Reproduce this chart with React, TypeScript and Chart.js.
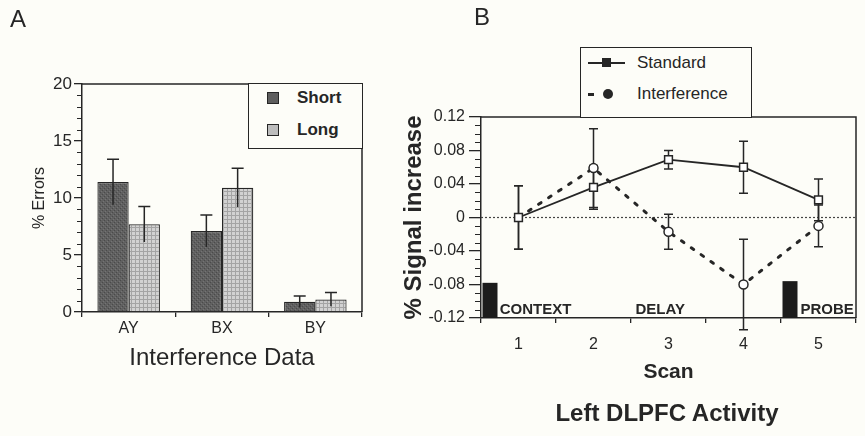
import React, { useEffect, useRef } from 'react';
import { Chart, registerables } from 'chart.js';

Chart.register(...registerables);

const FONT = "'Liberation Sans', Arial, Helvetica, sans-serif";
const INK = '#262626';
const BG = '#fdfdf8';

// ---------- Panel A data ----------
const categoriesA = ['AY', 'BX', 'BY'];
const shortValues = [11.4, 7.1, 0.9];
const shortErrors = [2.0, 1.4, 0.5];
const longValues = [7.7, 10.9, 1.1];
const longErrors = [1.55, 1.7, 0.6];
const yMinA = 0;
const yMaxA = 20;
const yStepA = 5;
const yMinorStepA = 1;

// ---------- Panel B data ----------
const scans = ['1', '2', '3', '4', '5'];
const standardSignal = [0, 0.036, 0.069, 0.06, 0.021];
const standardErrors = [0.038, 0.026, 0.011, 0.031, 0.025];
const interferenceSignal = [0, 0.059, -0.017, -0.08, -0.01];
const interferenceErrors = [0.038, 0.047, 0.021, 0.054, 0.025];
const yMinB = -0.12;
const yMaxB = 0.12;
const yStepB = 0.04;
const yMinorStepB = 0.01;
const phaseLabels = ['CONTEXT', 'DELAY', 'PROBE'];
const phaseLabelScan = [0.75, 2.56, 4.76];
const phaseLabelValue = [-0.115, -0.115, -0.115];
const phaseBarStartScan = [0.52, 4.52];
const phaseBarEndScan = [0.72, 4.72];
const phaseBarTop = [-0.078, -0.076];

Chart.defaults.font.family = FONT;
Chart.defaults.color = INK;

function makePattern(kind: 'short' | 'long'): CanvasPattern | string {
  const c = document.createElement('canvas');
  c.width = 4;
  c.height = 4;
  const g = c.getContext('2d');
  if (!g) return kind === 'short' ? '#5e5e5e' : '#bdbdbd';
  if (kind === 'short') {
    g.fillStyle = '#606060';
    g.fillRect(0, 0, 4, 4);
    g.fillStyle = '#4a4a4a';
    g.fillRect(0, 0, 1, 1);
    g.fillRect(2, 2, 1, 1);
    g.fillStyle = '#747474';
    g.fillRect(1, 3, 1, 1);
    g.fillRect(3, 1, 1, 1);
  } else {
    g.fillStyle = '#d2d2d2';
    g.fillRect(0, 0, 4, 4);
    g.fillStyle = '#a4a4a4';
    g.fillRect(0, 3, 4, 1);
    g.fillRect(3, 0, 1, 4);
  }
  return g.createPattern(c, 'repeat') || '#bbbbbb';
}

function framePlugin() {
  return {
    id: 'frame',
    afterDraw(chart: any) {
      const { ctx, chartArea } = chart;
      ctx.save();
      ctx.strokeStyle = INK;
      ctx.lineWidth = 1.5;
      ctx.beginPath();
      ctx.moveTo(chartArea.left, chartArea.top);
      ctx.lineTo(chartArea.right, chartArea.top);
      ctx.lineTo(chartArea.right, chartArea.bottom);
      ctx.stroke();
      ctx.restore();
    },
  };
}

function minorTicksPlugin(min: number, max: number, step: number, major: number, len: number) {
  return {
    id: 'minorTicks',
    afterDraw(chart: any) {
      const { ctx, chartArea } = chart;
      const y = chart.scales.y;
      const n = Math.round((max - min) / step);
      const per = Math.round(major / step);
      ctx.save();
      ctx.strokeStyle = INK;
      ctx.lineWidth = 1.1;
      ctx.beginPath();
      for (let i = 0; i <= n; i++) {
        if (i % per === 0) continue;
        const py = Math.round(y.getPixelForValue(min + i * step)) + 0.5;
        ctx.moveTo(chartArea.left - len, py);
        ctx.lineTo(chartArea.left, py);
      }
      ctx.stroke();
      ctx.restore();
    },
  };
}

function errorBarPlugin(errors: number[][], capWidth: number, bottomCap: boolean, under: boolean) {
  const draw = (chart: any) => {
    const { ctx } = chart;
    const y = chart.scales.y;
    chart.data.datasets.forEach((ds: any, di: number) => {
      const errs = errors[di];
      if (!errs) return;
      const meta = chart.getDatasetMeta(di);
      meta.data.forEach((el: any, i: number) => {
        const v = ds.data[i];
        const e = errs[i];
        const x = el.x;
        const yt = y.getPixelForValue(v + e);
        const yb = y.getPixelForValue(v - e);
        ctx.save();
        ctx.strokeStyle = INK;
        ctx.lineWidth = 1.5;
        ctx.setLineDash([]);
        ctx.beginPath();
        ctx.moveTo(x, yt);
        ctx.lineTo(x, yb);
        ctx.moveTo(x - capWidth / 2, yt);
        ctx.lineTo(x + capWidth / 2, yt);
        if (bottomCap) {
          ctx.moveTo(x - capWidth / 2, yb);
          ctx.lineTo(x + capWidth / 2, yb);
        }
        ctx.stroke();
        ctx.restore();
      });
    });
  };
  return under
    ? { id: 'errorBars', beforeDatasetsDraw: draw }
    : { id: 'errorBars', afterDatasetsDraw: draw };
}

const phasePlugin = {
  id: 'phases',
  beforeDatasetsDraw(chart: any) {
    const { ctx, chartArea } = chart;
    const x = chart.scales.x;
    const y = chart.scales.y;
    ctx.save();
    // zero reference line
    ctx.strokeStyle = '#444';
    ctx.lineWidth = 1.2;
    ctx.setLineDash([2, 2]);
    const y0 = y.getPixelForValue(0);
    ctx.beginPath();
    ctx.moveTo(chartArea.left, y0);
    ctx.lineTo(chartArea.right, y0);
    ctx.stroke();
    ctx.setLineDash([]);
    // context / probe bars
    ctx.fillStyle = '#1c1c1c';
    phaseBarStartScan.forEach((s, i) => {
      const x1 = x.getPixelForValue(s - 1);
      const x2 = x.getPixelForValue(phaseBarEndScan[i] - 1);
      const yt = y.getPixelForValue(phaseBarTop[i]);
      const yb = y.getPixelForValue(yMinB);
      ctx.fillRect(x1, yt, x2 - x1, yb - yt);
    });
    // labels
    ctx.fillStyle = INK;
    ctx.font = `bold 15px ${FONT}`;
    ctx.textBaseline = 'alphabetic';
    ctx.textAlign = 'left';
    phaseLabels.forEach((t, i) => {
      ctx.fillText(t, x.getPixelForValue(phaseLabelScan[i] - 1), y.getPixelForValue(phaseLabelValue[i]));
    });
    ctx.restore();
  },
};

function fmtB(v: any) {
  const n = Math.round(Number(v) * 100) / 100;
  if (n === 0) return '0';
  return n.toFixed(2);
}

export default function App() {
  const refA = useRef<HTMLCanvasElement | null>(null);
  const refB = useRef<HTMLCanvasElement | null>(null);

  useEffect(() => {
    if (!refA.current || !refB.current) return;
    const chartA = new Chart(refA.current, {
      type: 'bar',
      data: {
        labels: categoriesA,
        datasets: [
          {
            label: 'Short',
            data: shortValues,
            backgroundColor: makePattern('short') as any,
            borderColor: INK,
            borderWidth: 1.2,
            categoryPercentage: 0.67,
            barPercentage: 1,
          },
          {
            label: 'Long',
            data: longValues,
            backgroundColor: makePattern('long') as any,
            borderColor: INK,
            borderWidth: 1.2,
            categoryPercentage: 0.67,
            barPercentage: 1,
          },
        ],
      },
      options: {
        responsive: false,
        animation: false,
        layout: { padding: { top: 84, right: 38, bottom: 63, left: 0 } },
        plugins: { legend: { display: false }, tooltip: { enabled: false } },
        scales: {
          x: {
            grid: { offset: true, drawOnChartArea: false, tickLength: 5, color: INK, lineWidth: 1.3 },
            border: { color: INK, width: 1.5 },
            ticks: { padding: 1.5, font: { size: 16 }, color: INK },
            title: { display: true, text: 'Interference Data', font: { size: 24 }, color: INK, padding: 0 },
            afterFit: (s: any) => {
              s.height = 61;
            },
          },
          y: {
            min: yMinA,
            max: yMaxA,
            ticks: { stepSize: yStepA, padding: 2, font: { size: 17 }, color: INK },
            grid: { drawOnChartArea: false, tickLength: 8, color: INK, lineWidth: 1.3 },
            border: { color: INK, width: 1.5 },
            title: { display: true, text: '% Errors', font: { size: 16 }, color: INK, padding: { top: 30, bottom: 0 } },
            afterFit: (s: any) => {
              s.width = 82;
            },
          },
        },
      },
      plugins: [
        framePlugin(),
        minorTicksPlugin(yMinA, yMaxA, yMinorStepA, yStepA, 5),
        errorBarPlugin([shortErrors, longErrors], 12, false, false),
      ],
    } as any);

    const chartB = new Chart(refB.current, {
      type: 'line',
      data: {
        labels: scans,
        datasets: [
          {
            label: 'Standard',
            data: standardSignal,
            borderColor: INK,
            borderWidth: 1.8,
            pointStyle: 'rect',
            pointRadius: 5.5,
            pointBackgroundColor: '#ffffff',
            pointBorderColor: INK,
            pointBorderWidth: 1.5,
            tension: 0,
          },
          {
            label: 'Interference',
            data: interferenceSignal,
            borderColor: INK,
            borderWidth: 3,
            borderDash: [3, 9],
            borderCapStyle: 'round',
            pointStyle: 'circle',
            pointRadius: [0, 4.5, 4.5, 4.5, 4.5],
            pointBackgroundColor: '#ffffff',
            pointBorderColor: INK,
            pointBorderWidth: 1.5,
            tension: 0,
          },
        ],
      },
      options: {
        responsive: false,
        animation: false,
        layout: { padding: { top: 117, right: 9, bottom: 51, left: 0 } },
        plugins: { legend: { display: false }, tooltip: { enabled: false } },
        scales: {
          x: {
            type: 'category',
            offset: true,
            grid: { offset: true, drawOnChartArea: false, tickLength: 5, color: INK, lineWidth: 1.3 },
            border: { color: INK, width: 1.5 },
            ticks: { padding: 12, font: { size: 16 }, color: INK },
            title: { display: true, text: 'Scan', font: { size: 21, weight: 'bold' }, color: INK, padding: 0 },
            afterFit: (s: any) => {
              s.height = 67;
            },
          },
          y: {
            min: yMinB,
            max: yMaxB,
            ticks: { stepSize: yStepB, padding: 4, font: { size: 16 }, color: INK, callback: fmtB },
            grid: { drawOnChartArea: false, tickLength: 12, color: INK, lineWidth: 1.3 },
            border: { color: INK, width: 1.5 },
            title: {
              display: true,
              text: '% Signal increase',
              font: { size: 24, weight: 'bold' },
              color: INK,
              padding: { top: 0, bottom: 0 },
            },
            afterFit: (s: any) => {
              s.width = 81;
            },
          },
        },
      },
      plugins: [
        framePlugin(),
        minorTicksPlugin(yMinB, yMaxB, yMinorStepB, yStepB, 6),
        phasePlugin,
        errorBarPlugin([standardErrors, interferenceErrors], 9, true, true),
      ],
    } as any);

    return () => {
      chartA.destroy();
      chartB.destroy();
    };
  }, []);

  const abs = (l: number, t: number, extra: React.CSSProperties = {}): React.CSSProperties => ({
    position: 'absolute',
    left: l,
    top: t,
    ...extra,
  });

  return (
    <div
      style={{
        position: 'absolute',
        left: 0,
        top: 0,
        width: 865,
        height: 436,
        background: BG,
        overflow: 'hidden',
        fontFamily: FONT,
        color: INK,
      }}
    >
      <canvas ref={refA} width={400} height={436} style={abs(0, 0, { width: 400, height: 436 })} />
      <canvas ref={refB} width={465} height={436} style={abs(400, 0, { width: 465, height: 436 })} />

      <div style={abs(10, 4, { fontSize: 24, lineHeight: '30px' })}>A</div>
      <div style={abs(474, 2, { fontSize: 24, lineHeight: '30px' })}>B</div>

      {/* Legend A */}
      <div
        style={abs(248, 83, {
          width: 115,
          height: 66,
          border: `1.5px solid ${INK}`,
          boxSizing: 'border-box',
          background: BG,
        })}
      >
        <div style={abs(18, 8, { width: 10, height: 10, background: '#5e5e5e', border: `1px solid ${INK}` })} />
        <div style={abs(48, 2, { fontSize: 17, fontWeight: 'bold', lineHeight: '24px' })}>Short</div>
        <div style={abs(18, 40, { width: 10, height: 10, background: '#bdbdbd', border: `1px solid ${INK}` })} />
        <div style={abs(48, 34, { fontSize: 17, fontWeight: 'bold', lineHeight: '24px' })}>Long</div>
      </div>

      {/* Legend B */}
      <div
        style={abs(580, 47, {
          width: 172,
          height: 71,
          border: `1.5px solid ${INK}`,
          boxSizing: 'border-box',
          background: BG,
        })}
      >
        <div style={abs(7, 14, { width: 37, height: 2, background: INK })} />
        <div style={abs(21, 10, { width: 9, height: 9, background: INK })} />
        <div style={abs(56, 3, { fontSize: 17, lineHeight: '24px' })}>Standard</div>
        <div style={abs(7, 45, { width: 6, height: 3, background: INK })} />
        <div style={abs(22, 41, { width: 10, height: 10, background: INK, borderRadius: '50%' })} />
        <div style={abs(56, 34, { fontSize: 17, lineHeight: '24px' })}>Interference</div>
      </div>

      <div
        style={abs(467, 398, {
          width: 400,
          textAlign: 'center',
          fontSize: 24,
          fontWeight: 'bold',
          lineHeight: '30px',
        })}
      >
        Left DLPFC Activity
      </div>
    </div>
  );
}
